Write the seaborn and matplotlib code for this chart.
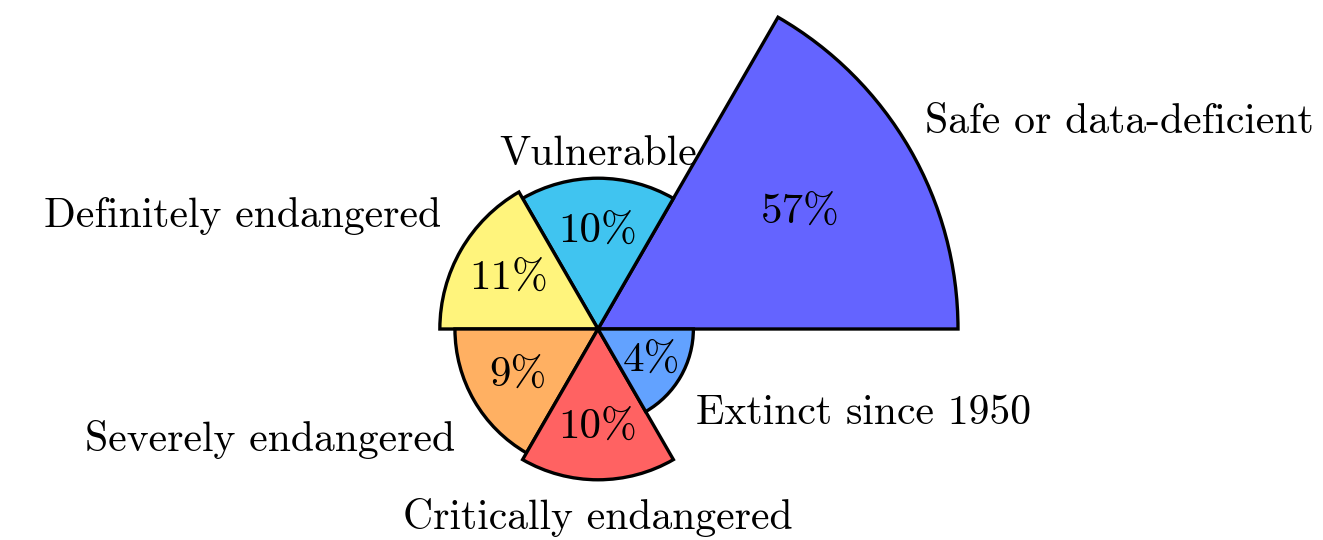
import numpy as np
import matplotlib
matplotlib.use('Agg')
import matplotlib.pyplot as plt
import seaborn as sns

# Language endangerment shares (percent)
categories = ['Safe or data-deficient', 'Vulnerable', 'Definitely endangered',
              'Severely endangered', 'Critically endangered', 'Extinct since 1950']
percents = [57, 10, 11, 9, 10, 4]
colors = ['#6464FF', '#40C4F0', '#FFF47C', '#FFB062', '#FF6262', '#62A2FF']

# label offsets from the wedge rim, in points
label_offsets = [(11, 6), (0, 4), (-14, 11), (-14, -14), (0, -13), (11, -13)]

sns.set_theme(style='white')
plt.rcParams['font.family'] = ['cmr10', 'DejaVu Serif']
plt.rcParams['mathtext.fontset'] = 'cm'
plt.rcParams['axes.unicode_minus'] = False
plt.rcParams['text.color'] = 'black'

fig = plt.figure(figsize=(13.23, 5.4), dpi=100)

# polar axes placed so the common centre sits where the reference has it
W, H = 1323, 540
cx, cy, R = 598, 540 - 329, 360
ax = fig.add_axes([(cx - R) / W, (cy - R) / H, 2 * R / W, 2 * R / H], projection='polar')

# equal angles, area proportional to share -> radius ~ sqrt(percent)
n = len(percents)
width = 2 * np.pi / n
theta = np.arange(n) * width + width / 2
radius = np.sqrt(percents)

ax.bar(theta, radius, width=width, color=colors, edgecolor='black',
       linewidth=2.4, align='center', clip_on=False)
ax.set_ylim(0, np.sqrt(max(percents)))
ax.set_axis_off()

for t, r, p, name, off in zip(theta, radius, percents, categories, label_offsets):
    # percentage inside the wedge
    ax.text(t, 0.65 * r, f'{p}%', ha='center', va='center', fontsize=31, color='black')
    # category label outside, anchored by direction
    c, s = np.cos(t), np.sin(t)
    ha = 'left' if c > 0.2 else ('right' if c < -0.2 else 'center')
    va = 'bottom' if s > 0.2 else ('top' if s < -0.2 else 'center')
    ax.annotate(name, xy=(t, r), xytext=off, textcoords='offset points',
                ha=ha, va=va, fontsize=30, color='black', annotation_clip=False)

fig.savefig('out.png', dpi=100)
